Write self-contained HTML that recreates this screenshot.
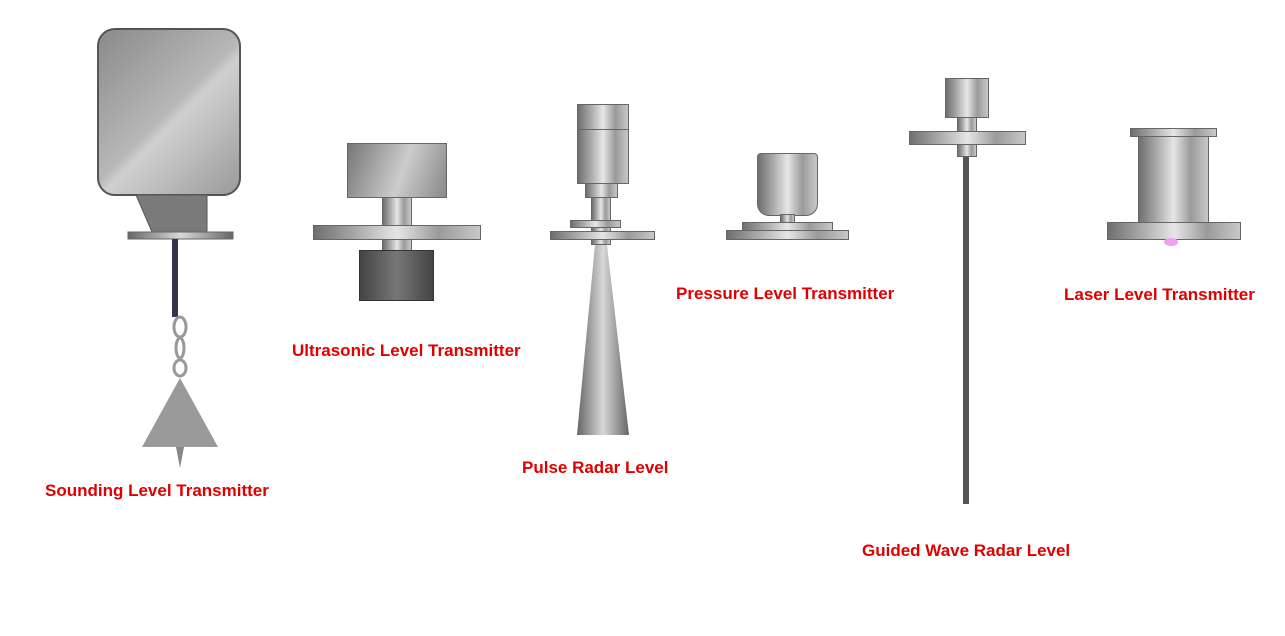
<!DOCTYPE html>
<html><head><meta charset="utf-8"><style>
body{margin:0;width:1285px;height:636px;background:#fff;position:relative;overflow:hidden;font-family:"Liberation Sans",sans-serif}
div{position:absolute;box-sizing:border-box}
.m{background:linear-gradient(90deg,#6f6f6f,#a8a8a8 25%,#e6e6e6 50%,#9a9a9a 75%,#c8c8c8);border:1px solid #666}
.t{color:#e00000;font-weight:bold;font-size:17px;white-space:nowrap;line-height:20px}
</style></head><body>
<div style="left:97px;top:28px;width:144px;height:168px;border-radius:18px;background:linear-gradient(135deg,#8a8a8a,#b8b8b8 50%,#d0d0d0 55%,#9a9a9a);border:2px solid #555"></div>
<svg style="position:absolute;left:0;top:0" width="1285" height="636">
<defs><linearGradient id="g" x1="0" x2="1"><stop offset="0" stop-color="#666"/><stop offset=".5" stop-color="#d8d8d8"/><stop offset="1" stop-color="#666"/></linearGradient></defs>
<polygon points="136,195 207,195 207,232 152,232" fill="#7a7a7a" stroke="#555"/>
<rect x="128" y="232" width="105" height="7" fill="url(#g)" stroke="#666"/>
<rect x="172" y="239" width="6" height="78" fill="#3a3050"/>
<ellipse cx="180" cy="327" rx="6" ry="10" fill="none" stroke="#999" stroke-width="3"/>
<ellipse cx="180" cy="348" rx="4" ry="10" fill="none" stroke="#999" stroke-width="3"/>
<ellipse cx="180" cy="368" rx="6" ry="8" fill="none" stroke="#999" stroke-width="3"/>
<polygon points="180,378 218,447 142,447" fill="#9a9a9a"/>
<polygon points="176,447 184,447 180,468" fill="#888"/>
<polygon points="595,245 607,245 629,435 577,435" fill="url(#g)"/>
<rect x="963" y="156" width="6" height="348" fill="#555"/>
</svg>
<div style="left:347px;top:143px;width:100px;height:55px;background:linear-gradient(110deg,#777,#ccc 55%,#888);border:1px solid #666"></div>
<div class="m" style="left:382px;top:197px;width:30px;height:55px"></div>
<div class="m" style="left:313px;top:225px;width:168px;height:15px"></div>
<div style="left:359px;top:250px;width:75px;height:51px;background:linear-gradient(90deg,#444,#777 50%,#444);border:1px solid #333"></div>
<div class="m" style="left:577px;top:104px;width:52px;height:80px"></div>
<div style="left:577px;top:129px;width:52px;height:1px;background:#666"></div>
<div class="m" style="left:585px;top:183px;width:33px;height:15px"></div>
<div class="m" style="left:591px;top:197px;width:20px;height:48px"></div>
<div class="m" style="left:570px;top:220px;width:51px;height:8px"></div>
<div class="m" style="left:550px;top:231px;width:105px;height:9px"></div>
<div class="m" style="left:757px;top:153px;width:61px;height:63px;border-radius:4px 4px 12px 12px"></div>
<div class="m" style="left:780px;top:214px;width:15px;height:9px"></div>
<div class="m" style="left:742px;top:222px;width:91px;height:9px"></div>
<div class="m" style="left:726px;top:230px;width:123px;height:10px"></div>
<div class="m" style="left:945px;top:78px;width:44px;height:40px"></div>
<div class="m" style="left:957px;top:117px;width:20px;height:40px"></div>
<div class="m" style="left:909px;top:131px;width:117px;height:14px"></div>
<div class="m" style="left:1130px;top:128px;width:87px;height:9px"></div>
<div class="m" style="left:1138px;top:136px;width:71px;height:87px"></div>
<div class="m" style="left:1107px;top:222px;width:134px;height:18px"></div>
<div style="left:1164px;top:238px;width:14px;height:8px;border-radius:50%;background:#f0a0f0"></div>
<div class="t" style="left:45px;top:481px">Sounding Level Transmitter</div>
<div class="t" style="left:292px;top:341px">Ultrasonic Level Transmitter</div>
<div class="t" style="left:522px;top:458px">Pulse Radar Level</div>
<div class="t" style="left:676px;top:284px">Pressure Level Transmitter</div>
<div class="t" style="left:1064px;top:285px">Laser Level Transmitter</div>
<div class="t" style="left:862px;top:541px">Guided Wave Radar Level</div>
</body></html>
